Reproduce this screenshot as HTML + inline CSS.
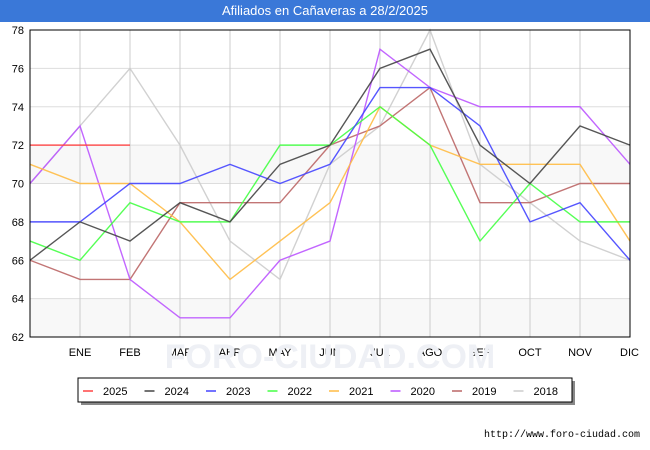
<!DOCTYPE html>
<html><head><meta charset="utf-8"><style>
body{margin:0;background:#fff;font-family:"Liberation Sans",sans-serif}
#t{position:absolute;left:0;top:0;width:650px;height:22px;background:#3a78d8;color:#fff;font-size:13px;text-align:center;line-height:22px}
</style></head><body>
<div id="t">Afiliados en Cañaveras a 28/2/2025</div>
<svg id="c" width="650" height="450" style="position:absolute;left:0;top:0"></svg>
<script>
const months=["","ENE","FEB","MAR","ABR","MAY","JUN","JUL","AGO","SEP","OCT","NOV","DIC"];
const yTicks=[62,64,66,68,70,72,74,76,78];
const names=["2025","2024","2023","2022","2021","2020","2019","2018"];
const colors=["#ff4444","#444444","#4444ff","#44ff44","#ffbb44","#bb55ff","#bb6666","#cccccc"];
const s2025=[72,72,72];
const s2024=[66,68,67,69,68,71,72,76,77,72,70,73,72];
const s2023=[68,68,70,70,71,70,71,75,75,73,68,69,66];
const s2022=[67,66,69,68,68,72,72,74,72,67,70,68,68];
const s2021=[71,70,70,68,65,67,69,74,72,71,71,71,67];
const s2020=[70,73,65,63,63,66,67,77,75,74,74,74,71];
const s2019=[66,65,65,69,69,69,72,73,75,69,69,70,70];
const s2018=[70,73,76,72,67,65,71,73,78,71,69,67,66];
const series=[s2025,s2024,s2023,s2022,s2021,s2020,s2019,s2018];
const L=30,R=630,T=30,B=337;
const x=i=>L+i*(R-L)/12;
const y=v=>B-(v-62)*(B-T)/16;
const svg=document.getElementById('c');const NS="http://www.w3.org/2000/svg";
function mk(t,a,p){const e=document.createElementNS(NS,t);for(const k in a)e.setAttribute(k,a[k]);(p||svg).appendChild(e);return e;}
for(let i=0;i<8;i+=2){const r=mk('rect',{x:L,y:y(yTicks[i+1]),width:R-L,height:y(yTicks[i])-y(yTicks[i+1]),fill:i%4==0?'#f8f8f8':'#fff'});}
yTicks.forEach(v=>{const l=mk('line',{x1:L,x2:R,y1:y(v),y2:y(v),stroke:'#dddddd'});
const t=mk('text',{x:L-6,y:y(v)+4,'text-anchor':'end','font-size':11,fill:'#000'});t.textContent=v;});
months.forEach((m,i)=>{if(i==0)return;const l=mk('line',{x1:x(i),x2:x(i),y1:T,y2:B,stroke:'#cccccc'});
const t=mk('text',{x:x(i),y:B+19,'text-anchor':i==12?'end':'middle','font-size':11,fill:'#000'});if(i==12)t.setAttribute('x',x(i)+9);t.textContent=m;});
const wm=mk('text',{x:330,y:368,'text-anchor':'middle','font-size':34,fill:'#eef0f5','font-weight':'bold'});wm.textContent="FORO-CIUDAD.COM";
for(let k=series.length-1;k>=0;k--){const p=mk('polyline',{points:series[k].map((v,i)=>x(i)+','+y(v)).join(' '),fill:'none',stroke:colors[k],'stroke-width':1.4,opacity:0.9});}
const fr=mk('rect',{x:L,y:T,width:R-L,height:B-T,fill:'none',stroke:'#000'});
const lg=mk('g',{});
mk('rect',{x:81,y:381,width:494,height:24,fill:'#888'},lg);
mk('rect',{x:78,y:378,width:494,height:24,fill:'#fff',stroke:'#000'},lg);
names.forEach((n,k)=>{const g=mk('g',{},lg);
const lx=83+k*61.5;mk('line',{x1:lx,x2:lx+10,y1:391,y2:391,stroke:colors[k],'stroke-width':1.5},g);
const t=mk('text',{x:lx+20,y:395,'font-size':11,fill:'#000'},g);t.textContent=n;});
const u=mk('text',{x:640,y:437,'text-anchor':'end','font-size':10,fill:'#000','font-family':'Liberation Mono, monospace'});u.textContent="http://www.foro-ciudad.com";
</script></body></html>
